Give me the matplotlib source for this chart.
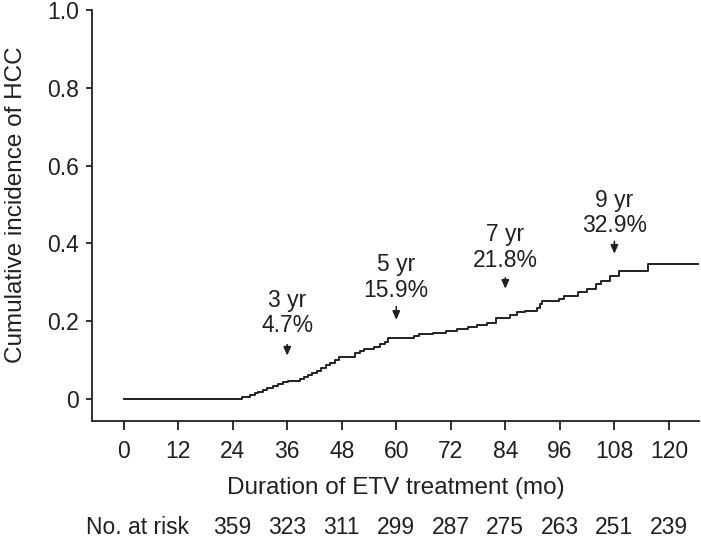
import matplotlib
matplotlib.use("Agg")
import matplotlib.pyplot as plt
import matplotlib.transforms as mtransforms

plt.rcParams["font.family"] = ["Liberation Sans", "DejaVu Sans"]

INK = "#231f20"

# step times (mo) and cumulative incidence after each step
step_t = [0, 26.0, 27.8, 29.0, 29.6, 30.6, 31.5, 32.8, 34.0, 35.0, 36.1,
          38.8, 39.7, 40.6, 41.5, 42.5, 43.5, 44.5, 45.5, 46.5, 47.5, 51.0,
          52.0, 53.0, 55.0, 56.4, 57.5, 58.2, 64.0, 65.0, 68.0, 71.0,
          73.3, 75.8, 77.7, 80.0, 82.0, 85.0, 86.5, 88.3, 91.0, 91.6,
          92.0, 95.8, 97.0, 100.0, 102.0, 104.0, 105.0, 107.0, 109.0, 115.4,
          126.4]
step_v = [0, 0.004, 0.010, 0.015, 0.018, 0.023, 0.028, 0.033, 0.038, 0.044, 0.047,
          0.050, 0.055, 0.060, 0.066, 0.072, 0.079, 0.086, 0.093, 0.099, 0.108, 0.118,
          0.123, 0.128, 0.134, 0.141, 0.147, 0.157, 0.161, 0.166, 0.170, 0.175,
          0.180, 0.185, 0.190, 0.196, 0.208, 0.216, 0.222, 0.226, 0.234, 0.245,
          0.252, 0.257, 0.265, 0.275, 0.283, 0.296, 0.303, 0.316, 0.329, 0.347,
          0.347]

# annotations: month, label, text bottom, arrow tail, arrow tip
ann_month = [36, 60, 84, 108]
ann_text = ["3 yr\n4.7%", "5 yr\n15.9%", "7 yr\n21.8%", "9 yr\n32.9%"]
ann_text_y = [0.158, 0.250, 0.327, 0.415]
ann_tail_y = [0.139, 0.237, 0.311, 0.405]
ann_tip_y = [0.111, 0.203, 0.283, 0.373]

xticks = list(range(0, 121, 12))
yticks = [0, 0.2, 0.4, 0.6, 0.8, 1.0]
ytick_labels = ["0", "0.2", "0.4", "0.6", "0.8", "1.0"]

risk_month = [24, 36, 48, 60, 72, 84, 96, 108, 120]
risk_n = [359, 323, 311, 299, 287, 275, 263, 251, 239]

FS = 16.5
FS_LABEL = 17.5

fig = plt.figure(figsize=(7.01, 5.39), dpi=100)
ax = fig.add_axes([0.131, 0.219, 0.866, 0.7625])

ax.step(step_t, step_v, where="post", color=INK, lw=1.4)

for m, txt, ty, ta, tp in zip(ann_month, ann_text, ann_text_y, ann_tail_y, ann_tip_y):
    ax.text(m, ty, txt, ha="center", va="bottom", fontsize=FS, color=INK,
            linespacing=1.15)
    ax.annotate("", xy=(m, tp), xytext=(m, ta),
                arrowprops=dict(arrowstyle="-|>,head_length=0.5,head_width=0.22",
                                color=INK, lw=1.2, shrinkA=0, shrinkB=0))

ax.set_xlim(-7.0, 126.6)
ax.set_ylim(-0.057, 1.0)
ax.set_xticks(xticks)
ax.set_yticks(yticks)
ax.set_yticklabels(ytick_labels)
ax.spines["top"].set_visible(False)
ax.spines["right"].set_visible(False)
for s in ("left", "bottom"):
    ax.spines[s].set_color(INK)
    ax.spines[s].set_linewidth(1.3)
ax.tick_params(axis="x", length=6.5, width=1.3, color=INK, pad=7,
               labelsize=FS, labelcolor=INK)
ax.tick_params(axis="y", length=4.3, width=1.3, color=INK, pad=5,
               labelsize=FS, labelcolor=INK)

ax.set_xlabel("Duration of ETV treatment (mo)", fontsize=FS_LABEL, color=INK)
ax.xaxis.label.set_va("center")
ax.xaxis.set_label_coords(0.5, -0.163)
ax.set_ylabel("Cumulative incidence of HCC", fontsize=FS_LABEL, color=INK)
ax.yaxis.label.set_va("center")
ax.yaxis.set_label_coords(-0.125, 0.527)

# number at risk row
trans = mtransforms.blended_transform_factory(ax.transData, fig.transFigure)
ax.text(14.3, 0.021, "No. at risk", transform=trans, ha="right", va="center",
        fontsize=FS, color=INK)
for m, n in zip(risk_month, risk_n):
    ax.text(m, 0.021, str(n), transform=trans, ha="center", va="center",
            fontsize=FS, color=INK)

fig.savefig("out.png", dpi=100)
